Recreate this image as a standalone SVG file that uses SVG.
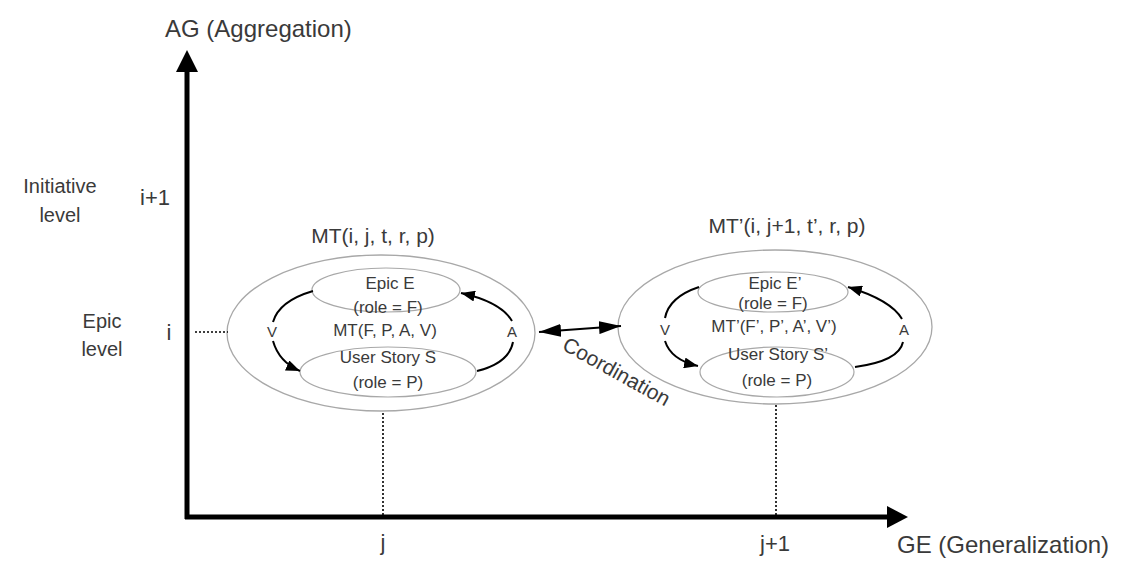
<svg xmlns="http://www.w3.org/2000/svg" width="1123" height="562" viewBox="0 0 1123 562">
<defs>
<style>
text{font-family:"Liberation Sans",Arial,sans-serif;fill:#3a3a3a}
.big{font-size:24px}
.lvl{font-size:20px;text-anchor:middle}
.idx{font-size:22px;text-anchor:middle}
.title{font-size:21px;text-anchor:middle}
.in{font-size:17px;text-anchor:middle}
.lab{font-size:15px;text-anchor:middle}
.outer{fill:#ffffff;stroke:#a8a8a8;stroke-width:1.3}
.inner{fill:#ffffff;stroke:#a8a8a8;stroke-width:1.2}
.axis{stroke:#000;stroke-width:5;fill:none}
.dot{stroke:#000;stroke-width:1.6;stroke-dasharray:2 2;fill:none}
.arc{stroke:#000;stroke-width:2;fill:none}
</style>
<marker id="ah" viewBox="0 0 10 10" refX="10" refY="5" markerUnits="userSpaceOnUse" markerWidth="14" markerHeight="11" orient="auto" preserveAspectRatio="none">
<path d="M0,0 L10,5 L0,10 z" fill="#000"/>
</marker>
<marker id="ahc" viewBox="0 0 10 10" refX="10" refY="5" markerUnits="userSpaceOnUse" markerWidth="22" markerHeight="13" orient="auto-start-reverse" preserveAspectRatio="none">
<path d="M0,0 L10,5 L0,10 z" fill="#000"/>
</marker>
</defs>

<g id="axes">
<line class="axis" x1="187" y1="519" x2="187" y2="70"/>
<polygon points="187,50 176,72 198,72" fill="#000"/>
<line class="axis" x1="185" y1="517" x2="889" y2="517"/>
<polygon points="908,517 887,506 887,528" fill="#000"/>
<text class="big" x="165" y="37">AG (Aggregation)</text>
<text class="big" x="897" y="553">GE (Generalization)</text>
<text class="lvl" x="60" y="193">Initiative</text>
<text class="lvl" x="60" y="222">level</text>
<text class="lvl" x="102" y="328">Epic</text>
<text class="lvl" x="102" y="356">level</text>
<text class="idx" x="155" y="205">i+1</text>
<text class="idx" x="169" y="340">i</text>
<text class="idx" x="383" y="550">j</text>
<text class="idx" x="775" y="551">j+1</text>
</g>

<g id="mt-left">
<text class="title" x="373" y="243">MT(i, j, t, r, p)</text>
<ellipse class="outer" cx="381" cy="333" rx="154" ry="78"/>
<ellipse class="inner" cx="386" cy="290" rx="74" ry="22"/>
<ellipse class="inner" cx="388" cy="372" rx="88" ry="25"/>
<text class="in" x="390" y="289">Epic E</text>
<text class="in" x="388" y="313">(role = F)</text>
<text class="in" x="385" y="336">MT(F, P, A, V)</text>
<text class="in" x="388" y="363">User Story S</text>
<text class="in" x="388" y="388">(role = P)</text>
<text class="lab" x="272" y="337">V</text>
<text class="lab" x="512" y="337">A</text>
</g>

<g id="mt-right">
<text class="title" x="787" y="233">MT’(i, j+1, t’, r, p)</text>
<ellipse class="outer" cx="775" cy="327" rx="157" ry="77"/>
<ellipse class="inner" cx="773" cy="292" rx="75" ry="20"/>
<ellipse class="inner" cx="777" cy="372" rx="77" ry="25"/>
<text class="in" x="775" y="289">Epic E’</text>
<text class="in" x="773" y="309">(role = F)</text>
<text class="in" x="774" y="332">MT’(F’, P’, A’, V’)</text>
<text class="in" x="778" y="360">User Story S’</text>
<text class="in" x="777" y="386">(role = P)</text>
<text class="lab" x="665" y="335">V</text>
<text class="lab" x="904" y="335">A</text>
</g>

<g id="connectors">
<path class="dot" d="M195,332 H228"/>
<path class="dot" d="M383,413 V515"/>
<path class="dot" d="M776,405 V515"/>
<path class="arc" d="M313,291 Q279,301 273,322"/>
<path class="arc" d="M273,341 Q279,362 300,371" marker-end="url(#ah)"/>
<path class="arc" d="M477,371 Q509,363 513,342"/>
<path class="arc" d="M512,321 Q501,302 461,293" marker-end="url(#ah)"/>
<path class="arc" d="M699,287 Q669,297 665,318"/>
<path class="arc" d="M665,341 Q671,360 698,366" marker-end="url(#ah)"/>
<path class="arc" d="M855,367 Q899,361 903,342"/>
<path class="arc" d="M902,319 Q891,300 848,287" marker-end="url(#ah)"/>
<path class="arc" d="M539,332 L621,326" marker-start="url(#ahc)" marker-end="url(#ahc)"/>
<text x="561" y="349" font-size="21" transform="rotate(29 561 349)">Coordination</text>
</g>
</svg>
